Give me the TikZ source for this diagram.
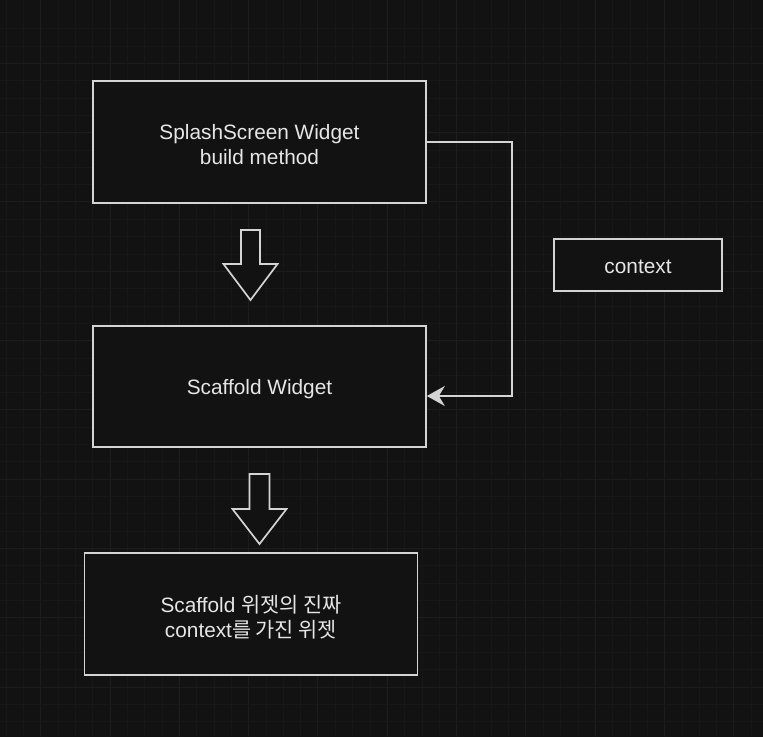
\documentclass[tikz,border=0pt]{standalone}
\usepackage{fontspec}
\setmainfont{Liberation Sans}
\newfontfamily\kr{Noto Sans CJK KR}
\usetikzlibrary{arrows.meta}
\definecolor{bgc}{HTML}{121212}
\definecolor{gridminor}{HTML}{171717}
\definecolor{gridmajor}{HTML}{1D1D1D}
\definecolor{linec}{HTML}{D4D4D4}
\definecolor{textc}{HTML}{E6E6E6}
\begin{document}
\begin{tikzpicture}[x=1pt,y=-1pt,
  box/.style={draw=linec, line width=1.7pt, fill=bgc, inner sep=0pt},
  boxtext/.style={text=textc, font=\fontsize{20.8}{25}\selectfont, align=center, inner sep=0pt, yshift=-3pt},
  hollow/.style={draw=linec, line width=1.7pt, fill=bgc, line join=miter},
  conn/.style={draw=linec, line width=1.7pt, -{Stealth[length=18pt,width=20pt,inset=6pt]}}]
\fill[bgc] (0,0) rectangle (763,737);
\useasboundingbox (0,0) rectangle (763,737);
% grid
\foreach \i in {-2,...,42} {
  \pgfmathsetmacro{\xx}{40.7+17.33*\i}
  \pgfmathsetmacro{\yy}{63.3+17.33*\i}
  \pgfmathtruncatemacro{\m}{mod(\i+100,4)}
  \ifnum\m=0
    \draw[gridmajor, line width=1pt] (\xx,0) -- (\xx,737);
    \draw[gridmajor, line width=1pt] (0,\yy) -- (763,\yy);
  \else
    \draw[gridminor, line width=0.8pt] (\xx,0) -- (\xx,737);
    \draw[gridminor, line width=0.8pt] (0,\yy) -- (763,\yy);
  \fi
}
% boxes
\node[box, minimum width=333pt, minimum height=122pt,
  label={[boxtext]center:{SplashScreen Widget\\build method}}] (splash) at (259.5,142) {};
\node[box, minimum width=333pt, minimum height=121pt,
  label={[boxtext]center:{Scaffold Widget}}] (scaffold) at (259.5,386.5) {};
\node[box, minimum width=333pt, minimum height=122pt,
  label={[boxtext]center:{Scaffold {\kr 위젯의 진짜}\\context{\kr 를 가진 위젯}}}] (real) at (251,614) {};
\node[box, minimum width=168pt, minimum height=52pt,
  label={[boxtext, yshift=1pt]center:{context}}] (ctx) at (638,265) {};
% hollow arrows
\draw[hollow] (241,230) -- (260,230) -- (260,264) -- (277.5,264) -- (250.5,300) -- (223.5,264) -- (241,264) -- cycle;
\draw[hollow] (249.5,474) -- (269.5,474) -- (269.5,509) -- (286.5,509) -- (259.5,544) -- (232.5,509) -- (249.5,509) -- cycle;
% connector
\coordinate (bend1) at (512,142);
\coordinate (bend2) at (512,396);
\draw[conn] (splash.east) -- (bend1) -- (bend2) -- (scaffold.east |- bend2);
\end{tikzpicture}
\end{document}
